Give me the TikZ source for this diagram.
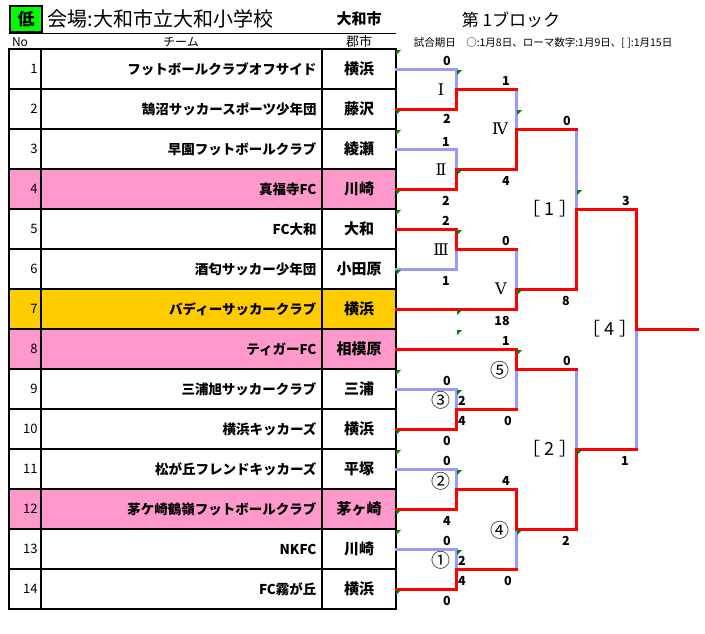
\documentclass[tikz,border=0pt]{standalone}
\usepackage{fontspec}
\setmainfont{Noto Sans CJK JP}
\newfontfamily\romanfont{DejaVu Serif}
\usetikzlibrary{positioning}
\definecolor{lineblue}{HTML}{9999FF}
\definecolor{rowpink}{HTML}{FF99CC}
\definecolor{rowgold}{HTML}{FFCC00}
\definecolor{markgreen}{HTML}{008000}
\definecolor{boxgreen}{HTML}{00FF00}
\begin{document}
\begin{tikzpicture}[x=1pt, y=1pt, node distance=0pt,
  cell/.style={draw, line width=1.3pt, outer sep=0pt, minimum height=40pt},
  no/.style={cell, inner xsep=3.5pt, text width=25pt, align=right, font=\fontsize{13}{13}\selectfont},
  team/.style={cell, inner xsep=5.5pt, text width=270pt, align=right, font=\bfseries\fontsize{13.5}{13.5}\selectfont},
  city/.style={cell, inner sep=0pt, minimum width=74pt, font=\bfseries\fontsize{15}{15}\selectfont},
  pink/.style={fill=rowpink}, gold/.style={fill=rowgold},
  won/.style={draw=red, line width=3pt, line cap=rect},
  lost/.style={draw=lineblue, line width=3pt, line cap=rect},
  score/.style={font=\bfseries\fontsize{12.5}{12.5}\selectfont},
  roman/.style={font=\romanfont\fontsize{16}{16}\selectfont},
  rnd/.style={font=\fontsize{19}{19}\selectfont},
  final/.style={font=\fontsize{18}{18}\selectfont}]
\useasboundingbox (0,0) rectangle (705,-633);
% header
\node[draw, line width=2pt, fill=boxgreen, minimum width=32pt, minimum height=26pt, anchor=north west, font=\bfseries\fontsize{17}{17}\selectfont] (low) at (9,-5) {低};
\node[anchor=west, font=\fontsize{20}{20}\selectfont] (venue) at (44,-19) {会場:大和市立大和小学校};
\node[font=\bfseries\fontsize{15}{15}\selectfont] (host) at (359,-19) {大和市};
\node[font=\fontsize{12}{12}\selectfont] (hno) at (20,-42) {No};
\node[font=\fontsize{12}{12}\selectfont] (hteam) at (181,-42) {チーム};
\node[font=\fontsize{13}{13}\selectfont] (hcity) at (359,-42) {郡市};
\node[font=\fontsize{17}{17}\selectfont] (block) at (511,-20) {第 1ブロック};
\node[font=\fontsize{10.5}{10.5}\selectfont] (dates) at (543,-43) {試合期日　○:1月8日、ローマ数字:1月9日、[ ]:1月15日};
% table
\node[no, anchor=north west] (n1) at (9,-49) {1};
\node[team, right=of n1] (t1) {フットボールクラブオフサイド};
\node[city, right=of t1] (c1) {横浜};
\node[no, below=of n1] (n2) {2};
\node[team, right=of n2] (t2) {鵠沼サッカースポーツ少年団};
\node[city, right=of t2] (c2) {藤沢};
\node[no, below=of n2] (n3) {3};
\node[team, right=of n3] (t3) {早園フットボールクラブ};
\node[city, right=of t3] (c3) {綾瀬};
\node[no, pink, below=of n3] (n4) {4};
\node[team, pink, right=of n4] (t4) {真福寺FC};
\node[city, pink, right=of t4] (c4) {川崎};
\node[no, below=of n4] (n5) {5};
\node[team, right=of n5] (t5) {FC大和};
\node[city, right=of t5] (c5) {大和};
\node[no, below=of n5] (n6) {6};
\node[team, right=of n6] (t6) {酒匂サッカー少年団};
\node[city, right=of t6] (c6) {小田原};
\node[no, gold, below=of n6] (n7) {7};
\node[team, gold, right=of n7] (t7) {バディーサッカークラブ};
\node[city, gold, right=of t7] (c7) {横浜};
\node[no, pink, below=of n7] (n8) {8};
\node[team, pink, right=of n8] (t8) {ティガーFC};
\node[city, pink, right=of t8] (c8) {相模原};
\node[no, below=of n8] (n9) {9};
\node[team, right=of n9] (t9) {三浦旭サッカークラブ};
\node[city, right=of t9] (c9) {三浦};
\node[no, below=of n9] (n10) {10};
\node[team, right=of n10] (t10) {横浜キッカーズ};
\node[city, right=of t10] (c10) {横浜};
\node[no, below=of n10] (n11) {11};
\node[team, right=of n11] (t11) {松が丘フレンドキッカーズ};
\node[city, right=of t11] (c11) {平塚};
\node[no, pink, below=of n11] (n12) {12};
\node[team, pink, right=of n12] (t12) {茅ケ崎鶴嶺フットボールクラブ};
\node[city, pink, right=of t12] (c12) {茅ヶ崎};
\node[no, below=of n12] (n13) {13};
\node[team, right=of n13] (t13) {NKFC};
\node[city, right=of t13] (c13) {川崎};
\node[no, below=of n13] (n14) {14};
\node[team, right=of n14] (t14) {FC霧が丘};
\node[city, right=of t14] (c14) {横浜};
\draw[line width=1pt] (low.south west) -- (low.south west -| c1.east);
% match points
\coordinate (m1) at (456,-89);
\coordinate (m2) at (456,-169);
\coordinate (m3) at (456,-249);
\coordinate (m4) at (516,-129);
\coordinate (m5) at (516,-289);
\coordinate (f1) at (576,-209);
\coordinate (k5) at (516,-369);
\coordinate (k3) at (456,-409);
\coordinate (k2) at (456,-489);
\coordinate (k1) at (456,-569);
\coordinate (k4) at (516,-529);
\coordinate (f2) at (576,-449);
\coordinate (f4) at (636,-329);
\coordinate (fin) at (697,-329);
% losers first, winners on top
\draw[lost] (c1.east) -| (m1) (c3.east) -| (m2) (c6.east) -| (m3)
  (m1 -| m4) -- (m4) (m3 -| m5) -- (m5) (m4 -| f1) -- (f1)
  (c9.east) -| (k3) (k3 -| k5) -- (k5) (c11.east) -| (k2) (c13.east) -| (k1)
  (k1 -| k4) -- (k4) (k5 -| f2) -- (f2) (f2 -| f4) -- (f4);
\draw[won] (c2.east) -| (m1) (c4.east) -| (m2) (c5.east) -| (m3)
  (m1) -- (m1 -| m4) (m2) -| (m4) (m3) -- (m3 -| m5) (c7.east) -| (m5)
  (m4) -- (m4 -| f1) (m5) -| (f1)
  (c8.east) -| (k5) (c10.east) -| (k3) (k3) -- (k3 -| k5)
  (c12.east) -| (k2) (c14.east) -| (k1) (k2) -| (k4) (k1) -- (k1 -| k4)
  (k5) -- (k5 -| f2) (k4) -| (f2) (f1) -| (f4) (f2) -- (f2 -| f4) (f4) -- (fin);
% round names
\node[roman] (r1) at (441,-90) {Ⅰ};
\node[roman] (r2) at (441,-170) {Ⅱ};
\node[roman] (r3) at (441,-250) {Ⅲ};
\node[roman] (r4) at (500,-129) {Ⅳ};
\node[roman] (r5) at (501,-289) {Ⅴ};
\node[rnd] (o5) at (500,-370) {⑤};
\node[rnd] (o3) at (441,-400) {③};
\node[rnd] (o2) at (441,-481) {②};
\node[rnd] (o4) at (500,-530) {④};
\node[rnd] (o1) at (441,-560) {①};
\node[final] (b1) at (550,-209) {［ 1 ］};
\node[final] (b2) at (550,-449) {［ 2 ］};
\node[final] (b4) at (610,-329) {［ 4 ］};
% scores
\node[score] (s1) at (447,-61) {0};
\node[score] (s2) at (447,-119) {2};
\node[score] (s3) at (506,-81) {1};
\node[score] (s4) at (567,-121) {0};
\node[score] (s5) at (446,-142) {1};
\node[score] (s6) at (506,-181) {4};
\node[score] (s7) at (446,-201) {2};
\node[score] (s8) at (446,-221) {2};
\node[score] (s9) at (506,-241) {0};
\node[score] (s10) at (446,-281) {1};
\node[score] (s11) at (566,-301) {8};
\node[score] (s12) at (502,-321) {18};
\node[score] (s13) at (626,-201) {3};
\node[score] (s14) at (506,-341) {1};
\node[score] (s15) at (567,-361) {0};
\node[score] (s16) at (447,-381) {0};
\node[score] (s17) at (462,-401) {2};
\node[score] (s18) at (462,-421) {4};
\node[score] (s19) at (508,-421) {0};
\node[score] (s20) at (447,-441) {0};
\node[score] (s21) at (447,-461) {0};
\node[score] (s22) at (625,-461) {1};
\node[score] (s23) at (506,-481) {4};
\node[score] (s24) at (447,-521) {4};
\node[score] (s25) at (566,-541) {2};
\node[score] (s26) at (447,-541) {0};
\node[score] (s27) at (462,-561) {2};
\node[score] (s28) at (462,-581) {4};
\node[score] (s29) at (508,-581) {0};
\node[score] (s30) at (447,-601) {0};
% green cell marks
\foreach \x/\y in {396/50, 457/70, 396/110, 517/110, 396/130, 457/170, 396/190, 396/210,
  457/230, 577/190, 396/270, 517/290, 457/310, 457/330, 517/350, 396/370, 457/390,
  396/430, 396/450, 457/470, 577/450, 396/510, 517/530, 396/530, 457/550, 396/590}
  \fill[markgreen] (\x,-\y) -- ++(5,0) -- ++(-5,-5) -- cycle;
\end{tikzpicture}
\end{document}
